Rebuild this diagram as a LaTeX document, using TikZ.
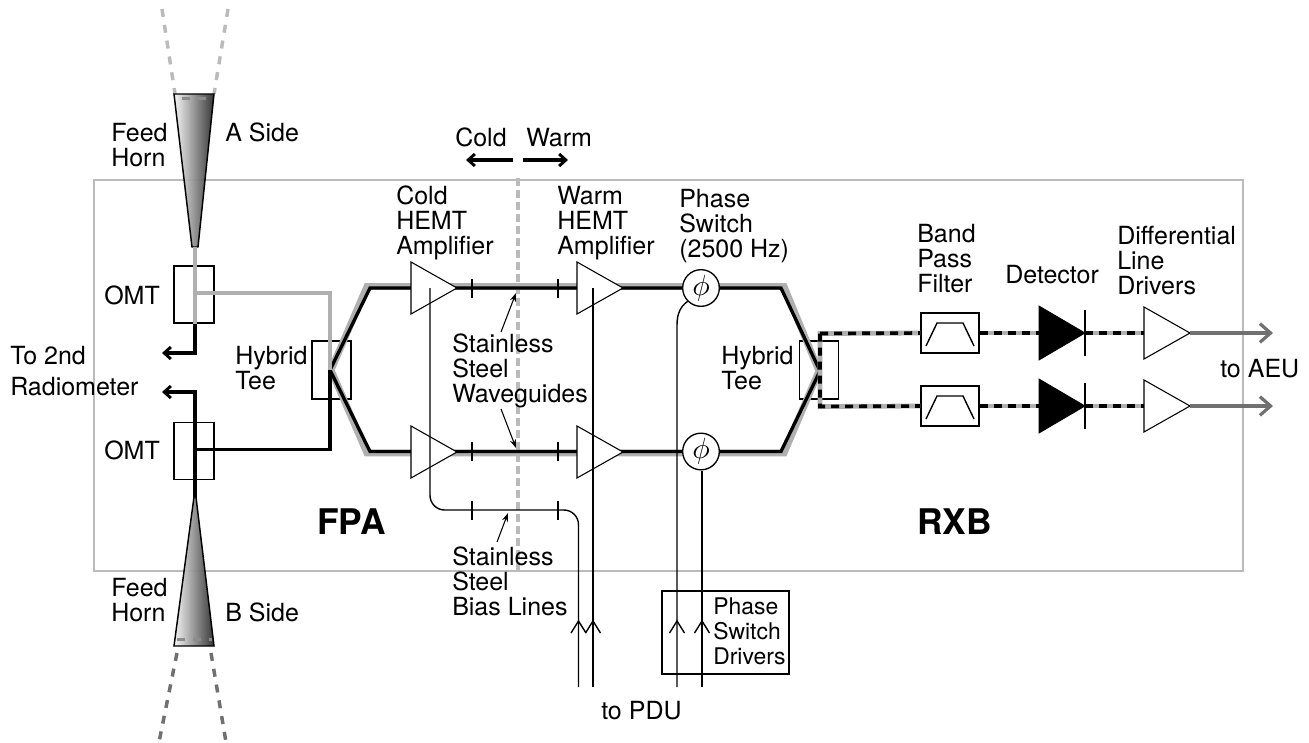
\documentclass[tikz,border=0pt]{standalone}
\usepackage{fontspec}
\usepackage{graphicx}
\setmainfont{TeX Gyre Heros}
\usetikzlibrary{arrows.meta,calc}
\definecolor{lgray}{HTML}{BBBBBB}
\definecolor{wgray}{HTML}{B0B0B0}
\definecolor{dgray}{HTML}{707070}
\newcommand{\labfont}{\fontsize{18.75}{18.75}\selectfont}
\newcommand{\smfont}{\fontsize{17.2}{18.75}\selectfont}
\newcommand{\bigfont}{\fontsize{26.5}{27}\selectfont\bfseries}
\tikzset{
  x=0.75pt,y=-0.75pt,
  thinln/.style={line width=1.05pt,draw=black},
  boxn/.style={draw=black,line width=1.05pt,inner sep=0pt,rectangle},
  ampn/.style={draw=black,fill=white,line width=0.8pt,line join=miter},
  gline/.style={draw=wgray,line width=5.2pt,line join=miter},
  kline/.style={draw=black,line width=2.5pt,line join=miter},
  gdash/.style={draw=wgray,line width=3.6pt},
  kdash/.style={draw=black,line width=2.7pt,dash pattern=on 6pt off 4.5pt},
  tickn/.style={draw=black,line width=1.6pt},
  fat/.style={-{Straight Barb[length=5pt,width=9pt,line width=2.2pt]},line width=2.3pt,draw=black},
  outchev/.style={-{Straight Barb[length=8pt,width=14pt,line width=2.4pt]},line width=2.6pt,draw=dgray},
  ptr/.style={-{Stealth[length=6.5pt,width=4.5pt]},line width=0.8pt,draw=black},
  txt/.style={anchor=north west,inner sep=0pt,align=left,font=\labfont},
  bigtxt/.style={anchor=base west,inner sep=0pt,font=\bigfont},
  hornn/.style={draw=black,line width=1.1pt,line join=miter,left color=black!4,middle color=black!55,right color=black!85},
  beamA/.style={draw=lgray,line width=2.6pt,dash pattern=on 6pt off 6pt},
  beamB/.style={draw=dgray,line width=2.6pt,dash pattern=on 6pt off 6pt},
  psn/.style={circle,draw=black,line width=1pt,fill=white,minimum size=27.5pt,inner sep=0pt},
}
\newcommand{\lbl}[4]{\node[txt] (#1) at (#2,{#3-24}) {\rule{0pt}{18pt}#4};}
\newcommand{\ampl}[3]{%
  \draw[ampn] (#2,{#3-26}) -- ({#2+46},#3) -- (#2,{#3+26}) -- cycle;
  \coordinate (#1-out) at ({#2+46},#3);
  \coordinate (#1-c) at ({#2+20},#3);}
\newcommand{\tickm}[3]{\coordinate (#1) at (#2,#3);\draw[tickn] (#2,{#3-9.5}) -- (#2,{#3+9.5});}
\newcommand{\chevm}[2]{\draw[thinln,line join=miter] ({#1-7.5},{#2+12}) -- (#1,#2) -- ({#1+7.5},{#2+12});}
\newcommand{\filt}[3]{%
  \node[boxn,fill=white,minimum width=43.5pt,minimum height=30pt] (#1) at (#2,#3) {};
  \draw[thinln] ({#2-24},{#3+13}) -- ({#2-13},{#3-10}) -- ({#2+13},{#3-10}) -- ({#2+24},{#3+13});}
\newcommand{\diode}[3]{%
  \draw[fill=black,draw=black,line width=0.6pt] (#2,{#3-27}) -- ({#2+46},#3) -- (#2,{#3+27}) -- cycle;
  \draw[thinln] ({#2+46},{#3-23}) -- ({#2+46},{#3+23});
  \coordinate (#1) at ({#2+46},#3);}
\begin{document}
\begin{tikzpicture}
\useasboundingbox (0,0) rectangle (1309,742);
\fill[white] (0,0) rectangle (1309,742);

% enclosure and cold/warm boundary
\node[draw=lgray,line width=1.5pt,inner sep=0pt,minimum width=861.75pt,minimum height=293pt] (encl) at (668.5,375.5) {};
\coordinate (bndT) at (518,178);
\coordinate (bndB) at (518,570);
\draw[draw=lgray,line width=2.4pt,dash pattern=on 6pt off 3pt] (bndT) -- (bndB);

% beams
\coordinate (bA1) at (162,9); \coordinate (bA2) at (175,94);
\coordinate (bA3) at (228,9); \coordinate (bA4) at (214,94);
\draw[beamA] (bA1) -- (bA2);
\draw[beamA] (bA3) -- (bA4);
\coordinate (bB1) at (177,653); \coordinate (bB2) at (159,742);
\coordinate (bB3) at (211,653); \coordinate (bB4) at (226,742);
\draw[beamB] (bB1) -- (bB2);
\draw[beamB] (bB3) -- (bB4);

% horns
\path[hornn,fill opacity=0.92] (174,94) -- (214,94) -- (198,247) -- (192,247) -- cycle;
\path[hornn,fill opacity=0.92] (174,646) -- (214,646) -- (196,497) -- (194,497) -- cycle;
\draw[draw=black!45,line width=2pt,dash pattern=on 6pt off 6pt] (182,98.5) -- (207,98.5);
\draw[draw=black!45,line width=2pt,dash pattern=on 6pt off 6pt] (177,639.5) -- (212,639.5);
\coordinate (hornA) at (195,247);
\coordinate (hornB) at (195,497);

% OMT and hybrid boxes
\node[boxn,minimum width=30pt,minimum height=43pt] (omtA) at (194,294.5) {};
\node[boxn,minimum width=30pt,minimum height=43pt] (omtB) at (194,451) {};
\node[boxn,minimum width=29.5pt,minimum height=43.5pt] (hybL) at (331.5,370) {};
\node[boxn,minimum width=29.5pt,minimum height=43.5pt] (hybR) at (819,370) {};

% junctions
\coordinate (apL) at (330,370);
\coordinate (apR) at (820,371);
\coordinate (tL) at (370,288);
\coordinate (tR) at (781,288);
\coordinate (bL) at (370,451.5);
\coordinate (bR) at (781,451.5);
\coordinate (jA) at (195,293);
\coordinate (jB) at (195,449.5);
\coordinate (cA) at (330,293);
\coordinate (cB) at (330,449.5);
\coordinate (toA) at (162,353);
\coordinate (toB) at (162,392);

% waveguides: gray beneath, black on top
\draw[gline,line cap=butt] ([shift={(1,0)}]apL) -- ([shift={(-3,-1.5)}]tL) -- ([shift={(3,-1.5)}]tR) -- ([shift={(-1,0)}]apR);
\draw[gline,line cap=butt] ([shift={(1,0)}]apL) -- ([shift={(-3,1.5)}]bL) -- ([shift={(3,1.5)}]bR) -- ([shift={(-1,0)}]apR);
\draw[kline] (apL) -- (tL) -- (tR) -- (apR);
\draw[kline] (apL) -- (bL) -- (bR) -- (apR);

% A side gray, B side black
\draw[draw=wgray,line width=2.4pt] (hornA) -- (omtA.south -| hornA);
\draw[draw=wgray,line width=2.4pt,line join=miter] (jA) -- (cA) -- (apL);
\draw[fat] (omtA.south -| hornA) |- (toA);
\draw[draw=black,line width=2.4pt,line join=miter] (jB) -- (cB) -- (apL);
\draw[fat] (hornB) |- (toB);

% amplifiers
\ampl{ca1}{411}{288}
\ampl{wa1}{577}{288}
\ampl{ca2}{411}{452}
\ampl{wa2}{577}{452}

% waveguide ticks
\tickm{t1}{472}{288}
\tickm{t2}{558}{288}
\tickm{t3}{472}{451.5}
\tickm{t4}{558}{451.5}

% phase switches and their drivers
\node[psn] (ps1) at (701,288) {\scalebox{2.2}{$\phi$}};
\node[psn] (ps2) at (701,451.5) {\scalebox{2.2}{$\phi$}};
\node[draw=black,line width=1.2pt,inner sep=0pt,minimum width=95pt,minimum height=62pt] (drv) at (725.5,632.5) {};

% bias lines
\coordinate (bEnd1) at (578.5,687);
\coordinate (bEnd2) at (593,687);
\coordinate (bTop2) at (593,288);
\coordinate (bTop1) at (430,288);
\coordinate (bOut1) at (677,687);
\coordinate (bOut2) at (702,687);
\coordinate (bK1) at (430,510);
\coordinate (bK2) at (578.5,510);
\draw[thinln,rounded corners=11pt] (bTop1) -- (bK1) -- (bK2) -- (bEnd1);
\draw[thinln] (bTop2) -- (bEnd2);
\draw[thinln] (bOut1) -- (677,325) .. controls (677,313) and (681,306) .. (ps1.225);
\draw[thinln] (bOut2) -- (ps2.south -| bOut2);
\tickm{t5}{472}{510}
\tickm{t6}{558}{510}

% chevrons on bias lines
\chevm{578.5}{621}
\chevm{593}{621}
\chevm{677}{621}
\chevm{702}{621}

% detector chain
\coordinate (brT) at (820,333.5);
\coordinate (brB) at (820,406.5);
\filt{f1}{950}{333}
\filt{f2}{950}{406}
\diode{d1}{1039}{333}
\diode{d2}{1039}{406}
\coordinate (ld1) at (1144,333);
\coordinate (ld2) at (1144,406);
\draw[gdash] (f1.west) -- (brT) -- (brB) -- (f2.west);
\draw[kdash] (brT) -- (f1.west);
\draw[kdash] (brT) -- (brB) -- (f2.west);
\draw[gdash] (f1.east) -- (1039,333);
\draw[kdash] (f1.east) -- (1039,333);
\draw[gdash] (f2.east) -- (1039,406);
\draw[kdash] (f2.east) -- (1039,406);
\draw[gdash] (d1) -- (ld1);
\draw[kdash] (d1) -- (ld1);
\draw[gdash] (d2) -- (ld2);
\draw[kdash] (d2) -- (ld2);
\ampl{ld1x}{1144}{333}
\ampl{ld2x}{1144}{406}
\coordinate (aeu1) at (1273,333);
\coordinate (aeu2) at (1273,406);
\draw[outchev] (ld1x-out) -- (aeu1);
\draw[outchev] (ld2x-out) -- (aeu2);

% cold / warm arrows
\coordinate (cwL) at (513,160);
\coordinate (cwLe) at (466,160);
\coordinate (cwR) at (523,160);
\coordinate (cwRe) at (568,160);
\draw[fat] (cwL) -- (cwLe);
\draw[fat] (cwR) -- (cwRe);

% pointers
\coordinate (pA1) at (501,332); \coordinate (pA2) at (516,293);
\coordinate (pB1) at (501,409); \coordinate (pB2) at (516,448);
\coordinate (pC1) at (497,542); \coordinate (pC2) at (508,513);
\draw[ptr] (pA1) -- (pA2);
\draw[ptr] (pB1) -- (pB2);
\draw[ptr] (pC1) -- (pC2);

% labels
\lbl{lFeedA}{111}{141}{Feed\\Horn}
\lbl{lASide}{225}{141}{A Side}
\lbl{lOMTA}{104}{304}{OMT}
\lbl{lOMTB}{104}{459}{OMT}
\lbl{l2nd}{10}{364}{To 2nd}
\lbl{lRad}{10}{395}{Radiometer}
\lbl{lHybL}{235}{364}{Hybrid\\Tee}
\lbl{lFeedB}{111}{596}{Feed\\Horn}
\lbl{lBSide}{225}{621}{B Side}
\lbl{lCold}{455}{146}{Cold}
\lbl{lWarm}{526}{146}{Warm}
\lbl{lCHEMT}{396}{204}{Cold\\HEMT\\Amplifier}
\lbl{lWHEMT}{557}{204}{Warm\\HEMT\\Amplifier}
\lbl{lPS}{679}{207}{Phase\\Switch\\(2500 Hz)}
\lbl{lSSW}{452}{352}{Stainless\\Steel\\Waveguides}
\lbl{lSSB}{452}{565}{Stainless\\Steel\\Bias Lines}
\lbl{lHybR}{721}{364}{Hybrid\\Tee}
\lbl{lBPF}{917}{242}{Band\\Pass\\Filter}
\lbl{lDet}{1005}{283}{Detector}
\lbl{lDLD}{1117}{244}{Differential\\Line\\Drivers}
\lbl{lAEU}{1220}{377}{to AEU}
\lbl{lPDU}{601}{719}{to PDU}
\node[txt,font=\smfont] (lPSD) at (713,590) {\rule{0pt}{18pt}Phase\\Switch\\Drivers};
\node[bigtxt] (lFPA) at (317,534) {FPA};
\node[bigtxt] (lRXB) at (917,534) {RXB};
\end{tikzpicture}
\end{document}
